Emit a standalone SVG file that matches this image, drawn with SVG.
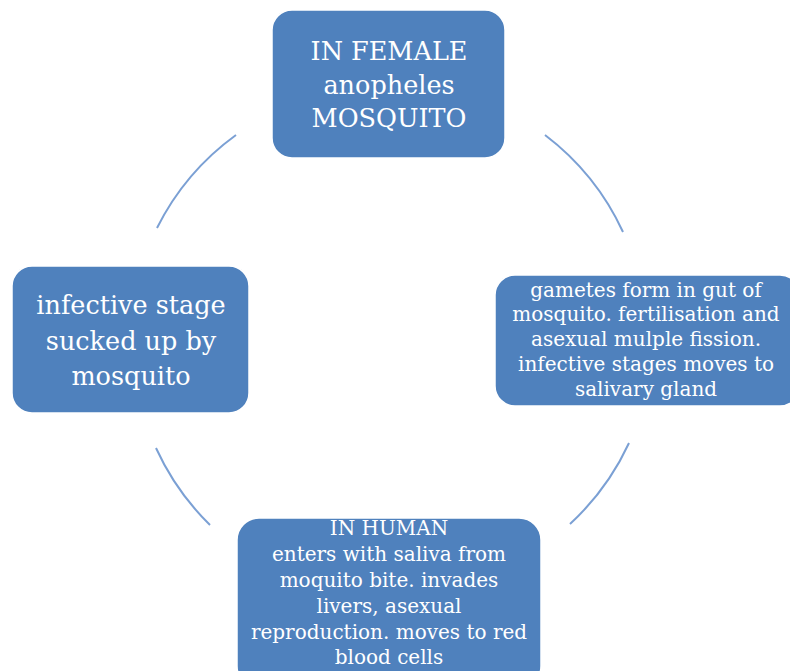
<svg xmlns="http://www.w3.org/2000/svg" width="790" height="671" viewBox="0 0 790 671">
<style>
.box{fill:#4F81BD;stroke:#ffffff;stroke-width:1.5}
.arc{fill:none;stroke:#7BA0D4;stroke-width:2}
.t{fill:#ffffff;font-family:"DejaVu Serif","Liberation Serif",serif;text-anchor:middle}
.big{font-size:25.5px}
.sm{font-size:20px}
</style>
<rect width="790" height="671" fill="#ffffff"/>
<g id="connectors">
<path class="arc" d="M236,135 A257,257 0 0 0 157,228"/>
<path class="arc" d="M545,135 A257,257 0 0 1 623,232"/>
<path class="arc" d="M629,443 A257,257 0 0 1 570,524"/>
<path class="arc" d="M156,448 A257,257 0 0 0 210,525"/>
</g>
<g id="node-top">
<rect class="box" x="272" y="10" width="233" height="148" rx="20"/>
<text class="t big" x="389" y="60">IN FEMALE</text>
<text class="t big" x="389" y="94">anopheles</text>
<text class="t big" x="389" y="127">MOSQUITO</text>
</g>
<g id="node-right">
<rect class="box" x="495" y="275" width="305" height="131" rx="20"/>
<text class="t sm" x="646" y="297">gametes form in gut of</text>
<text class="t sm" x="646" y="321">mosquito. fertilisation and</text>
<text class="t sm" x="646" y="346">asexual mulple fission.</text>
<text class="t sm" x="646" y="371">infective stages moves to</text>
<text class="t sm" x="646" y="396">salivary gland</text>
</g>
<g id="node-bottom">
<rect class="box" x="237" y="518" width="304" height="170" rx="22"/>
<text class="t sm" x="389" y="535">IN HUMAN</text>
<text class="t sm" x="389" y="561">enters with saliva from</text>
<text class="t sm" x="389" y="587">moquito bite. invades</text>
<text class="t sm" x="389" y="613">livers, asexual</text>
<text class="t sm" x="389" y="639">reproduction. moves to red</text>
<text class="t sm" x="389" y="664">blood cells</text>
</g>
<g id="node-left">
<rect class="box" x="12" y="266" width="237" height="147" rx="20"/>
<text class="t big" x="131" y="314">infective stage</text>
<text class="t big" x="131" y="350">sucked up by</text>
<text class="t big" x="131" y="385">mosquito</text>
</g>
</svg>
